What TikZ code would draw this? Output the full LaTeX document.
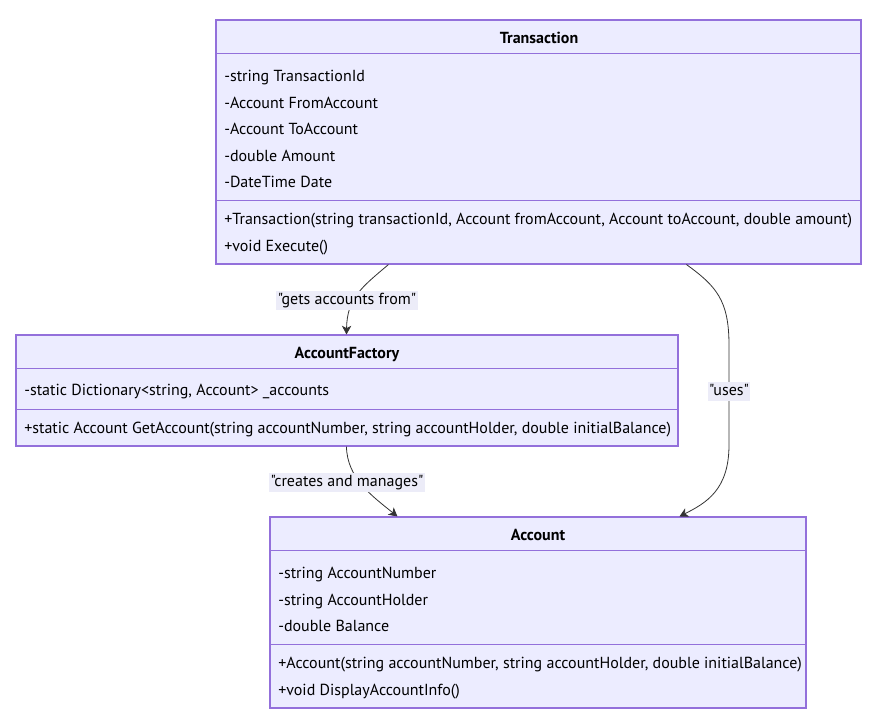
\documentclass[tikz,border=0pt]{standalone}
\usepackage{fontspec}
\setmainfont{PT Sans}[Ligatures=TeXOff]
\usetikzlibrary{arrows.meta,fit,calc}
\definecolor{boxfill}{HTML}{ECECFF}
\definecolor{boxline}{HTML}{9370DB}
\definecolor{edgeline}{HTML}{333333}
\definecolor{labelfill}{HTML}{ECECF8}
\begin{document}
\begin{tikzpicture}[x=0.75pt,y=-0.75pt,
  classbox/.style={draw=boxline, fill=boxfill, line width=0.8pt, inner sep=0pt},
  divider/.style={draw=boxline, line width=0.8pt},
  txt/.style={font=\fontsize{12}{14}\selectfont, text height=8.6pt, text depth=2.6pt, inner sep=0pt, yshift=-1.4pt},
  member/.style={txt, anchor=west},
  classtitle/.style={txt, font=\fontsize{12}{14}\selectfont\bfseries},
  rel/.style={draw=edgeline, line width=0.6pt, -{Stealth[length=6.5pt, width=7pt, inset=1.8pt]}},
  rellabel/.style={txt, fill=labelfill, inner xsep=1pt, inner ysep=1.5pt}]
\useasboundingbox[fill=white] (0,0) rectangle (886,721);

% ---- Transaction ----
\node[classbox, fit={(216,20) (861,264)}] (tx) {};
\draw[divider] ($(tx.north west)+(0,34)$) -- ($(tx.north east)+(0,34)$);
\draw[divider] ($(tx.north west)+(0,181)$) -- ($(tx.north east)+(0,181)$);
\node[classtitle] (txname) at (539,38) {Transaction};
\node[member] (tx1) at (224,76) {-string TransactionId};
\node[member] (tx2) at (224,102.5) {-Account FromAccount};
\node[member] (tx3) at (224,129) {-Account ToAccount};
\node[member] (tx4) at (224,155.5) {-double Amount};
\node[member] (tx5) at (224,182) {-DateTime Date};
\node[member] (tx6) at (224,219) {+Transaction(string transactionId, Account fromAccount, Account toAccount, double amount)};
\node[member] (tx7) at (224,246) {+void Execute()};

% ---- AccountFactory ----
\node[classbox, fit={(16,335) (678,446)}] (af) {};
\draw[divider] ($(af.north west)+(0,34)$) -- ($(af.north east)+(0,34)$);
\draw[divider] ($(af.north west)+(0,75)$) -- ($(af.north east)+(0,75)$);
\node[classtitle] (afname) at (347,353) {AccountFactory};
\node[member] (af1) at (24,390) {-static Dictionary<string, Account> \_accounts};
\node[member] (af2) at (24,428) {+static Account GetAccount(string accountNumber, string accountHolder, double initialBalance)};

% ---- Account ----
\node[classbox, fit={(270,517) (806,708)}] (ac) {};
\draw[divider] ($(ac.north west)+(0,34)$) -- ($(ac.north east)+(0,34)$);
\draw[divider] ($(ac.north west)+(0,128)$) -- ($(ac.north east)+(0,128)$);
\node[classtitle] (acname) at (538,535) {Account};
\node[member] (ac1) at (278,573) {-string AccountNumber};
\node[member] (ac2) at (278,599.5) {-string AccountHolder};
\node[member] (ac3) at (278,626) {-double Balance};
\node[member] (ac4) at (278,663) {+Account(string accountNumber, string accountHolder, double initialBalance)};
\node[member] (ac5) at (278,690) {+void DisplayAccountInfo()};

% ---- relations ----
\coordinate (e1s) at ($(tx.south west)+(173,0)$);
\coordinate (e1t) at ($(af.north west)+(331,0)$);
\draw[rel] (e1s) .. controls (362,287) and (347,298) .. (e1t);
\node[rellabel] (l1) at (347,299) {"gets accounts from"};

\coordinate (e2s) at ($(af.south west)+(331,0)$);
\coordinate (e2t) at ($(ac.north west)+(128,0)$);
\draw[rel] (e2s) .. controls (347,478) and (372,496) .. (e2t);
\node[rellabel] (l2) at (347,481) {"creates and manages"};

\coordinate (e3s) at ($(tx.south west)+(471,0)$);
\coordinate (e3t) at ($(ac.north west)+(410,0)$);
\draw[rel] (e3s) .. controls (716,286) and (729,300) .. (729,345)
  -- (729,445) .. controls (729,490) and (706,503) .. (e3t);
\node[rellabel] (l3) at (729,390) {"uses"};
\end{tikzpicture}
\end{document}
